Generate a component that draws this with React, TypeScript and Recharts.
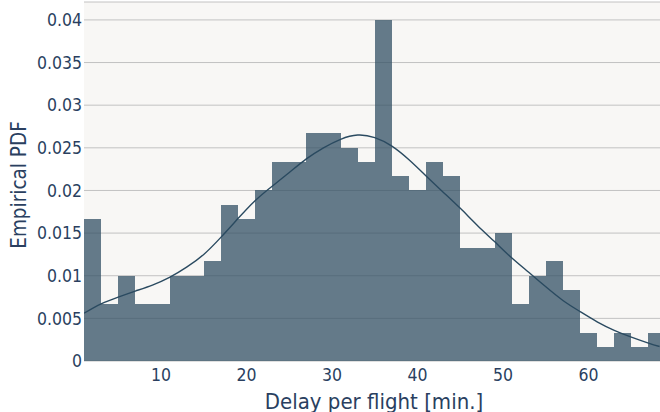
import { Bar, CartesianGrid, ComposedChart, Line, XAxis, YAxis } from "recharts";

// histogram bins (2 min wide), centre of each bin
const binCenters = [
  2, 4, 6, 8, 10, 12, 14, 16, 18, 20, 22, 24, 26, 28, 30, 32, 34,
  36, 38, 40, 42, 44, 46, 48, 50, 52, 54, 56, 58, 60, 62, 64, 66, 68,
];

// empirical density per bin
const binDensity = [
  0.0167, 0.0067, 0.01, 0.0067, 0.0067, 0.01, 0.01, 0.0117, 0.0183, 0.0167,
  0.02, 0.0233, 0.0233, 0.0267, 0.0267, 0.025, 0.0233, 0.04, 0.0217, 0.02,
  0.0233, 0.0217, 0.0133, 0.0133, 0.015, 0.0067, 0.01, 0.0117, 0.0083, 0.0033,
  0.0017, 0.0033, 0.0017, 0.0033,
];

// kernel density estimate
const kdeX = [
  1, 3, 5, 7, 9, 11, 13, 15, 17, 19, 21, 23, 25, 27, 29, 31, 33, 35,
  37, 39, 41, 43, 45, 47, 49, 51, 53, 55, 57, 59, 61, 63, 65, 67, 68.3,
];
const kdeY = [
  0.0056, 0.0067, 0.0075, 0.0082, 0.0089, 0.0098, 0.011, 0.0125, 0.0145,
  0.0167, 0.0188, 0.0205, 0.0221, 0.0237, 0.025, 0.026, 0.0265, 0.0262, 0.0252,
  0.0236, 0.0217, 0.0198, 0.0179, 0.0159, 0.014, 0.0121, 0.0104, 0.0087, 0.0071,
  0.0058, 0.0046, 0.0036, 0.0028, 0.0021, 0.0017,
];

const xTicks = [10, 20, 30, 40, 50, 60];
const yTicks = [0, 0.005, 0.01, 0.015, 0.02, 0.025, 0.03, 0.035, 0.04];

const WIDTH = 660;
const HEIGHT = 412;
const Y_AXIS_W = 84;
const X_AXIS_H = 51;
const TOP = 2;
const PLOT_W = WIDTH - Y_AXIS_W;
const PLOT_H = HEIGHT - X_AXIS_H - TOP;

const BIN_WIDTH = 2;
const X_DOMAIN: [number, number] = [1, 68.35];
const Y_DOMAIN: [number, number] = [0, 0.0421];
// recharts floors the bar width to whole pixels, so draw each bin at its true width
const BIN_PX = (PLOT_W * BIN_WIDTH) / (X_DOMAIN[1] - X_DOMAIN[0]);

const TEXT = "#2a3f5f";
const FONT = "'DejaVu Sans Condensed', 'DejaVu Sans', sans-serif";

const bins = binCenters.map((x, i) => ({ x, density: binDensity[i] }));
const kde = kdeX.map((x, i) => ({ x, kde: kdeY[i] }));

// crisp edges so neighbouring translucent bins don't leave light seams
function BinRect(props: any) {
  const { x, y, height } = props;
  if (!height) return null;
  return (
    <rect
      x={x}
      y={y}
      width={BIN_PX}
      height={height}
      fill="#335064"
      fillOpacity={0.75}
      shapeRendering="crispEdges"
    />
  );
}

export default function App() {
  return (
    <div style={{ position: "absolute", left: 0, top: 0, background: "#fff" }}>
      <ComposedChart
        width={WIDTH}
        height={HEIGHT}
        data={bins}
        margin={{ top: TOP, right: 0, bottom: 0, left: 0 }}
        barCategoryGap={0}
        barGap={0}
        style={{ fontFamily: FONT }}
      >
        <CartesianGrid vertical={false} stroke="#c2c2c2" fill="#f8f7f5" />
        <XAxis
          dataKey="x"
          type="number"
          domain={X_DOMAIN}
          allowDataOverflow
          ticks={xTicks}
          tickLine={false}
          axisLine={false}
          tickSize={0}
          tickMargin={8}
          height={X_AXIS_H}
          tick={{ fill: TEXT, fontSize: 17.5 }}
          label={{
            content: () => (
              <text
                x={Y_AXIS_W + PLOT_W / 2 + 2}
                y={TOP + PLOT_H + 40}
                textAnchor="middle"
                dominantBaseline="central"
                fill={TEXT}
                fontSize={22}
              >
                Delay per flight [min.]
              </text>
            ),
          }}
        />
        <XAxis xAxisId="kde" dataKey="x" type="number" domain={X_DOMAIN} allowDataOverflow hide />
        <YAxis
          type="number"
          domain={Y_DOMAIN}
          allowDataOverflow
          ticks={yTicks}
          width={Y_AXIS_W}
          tickLine={false}
          axisLine={false}
          tickSize={0}
          tickMargin={2}
          tick={{ fill: TEXT, fontSize: 17.5 }}
          label={{
            content: () => (
              <text
                x={19}
                y={185}
                transform="rotate(-90 19 185)"
                textAnchor="middle"
                dominantBaseline="central"
                fill={TEXT}
                fontSize={20.5}
              >
                Empirical PDF
              </text>
            ),
          }}
        />
        <Bar dataKey="density" shape={BinRect} isAnimationActive={false} />
        <Line
          xAxisId="kde"
          data={kde}
          dataKey="kde"
          type="natural"
          stroke="#2a4a60"
          strokeWidth={1.4}
          dot={false}
          isAnimationActive={false}
        />
      </ComposedChart>
    </div>
  );
}
